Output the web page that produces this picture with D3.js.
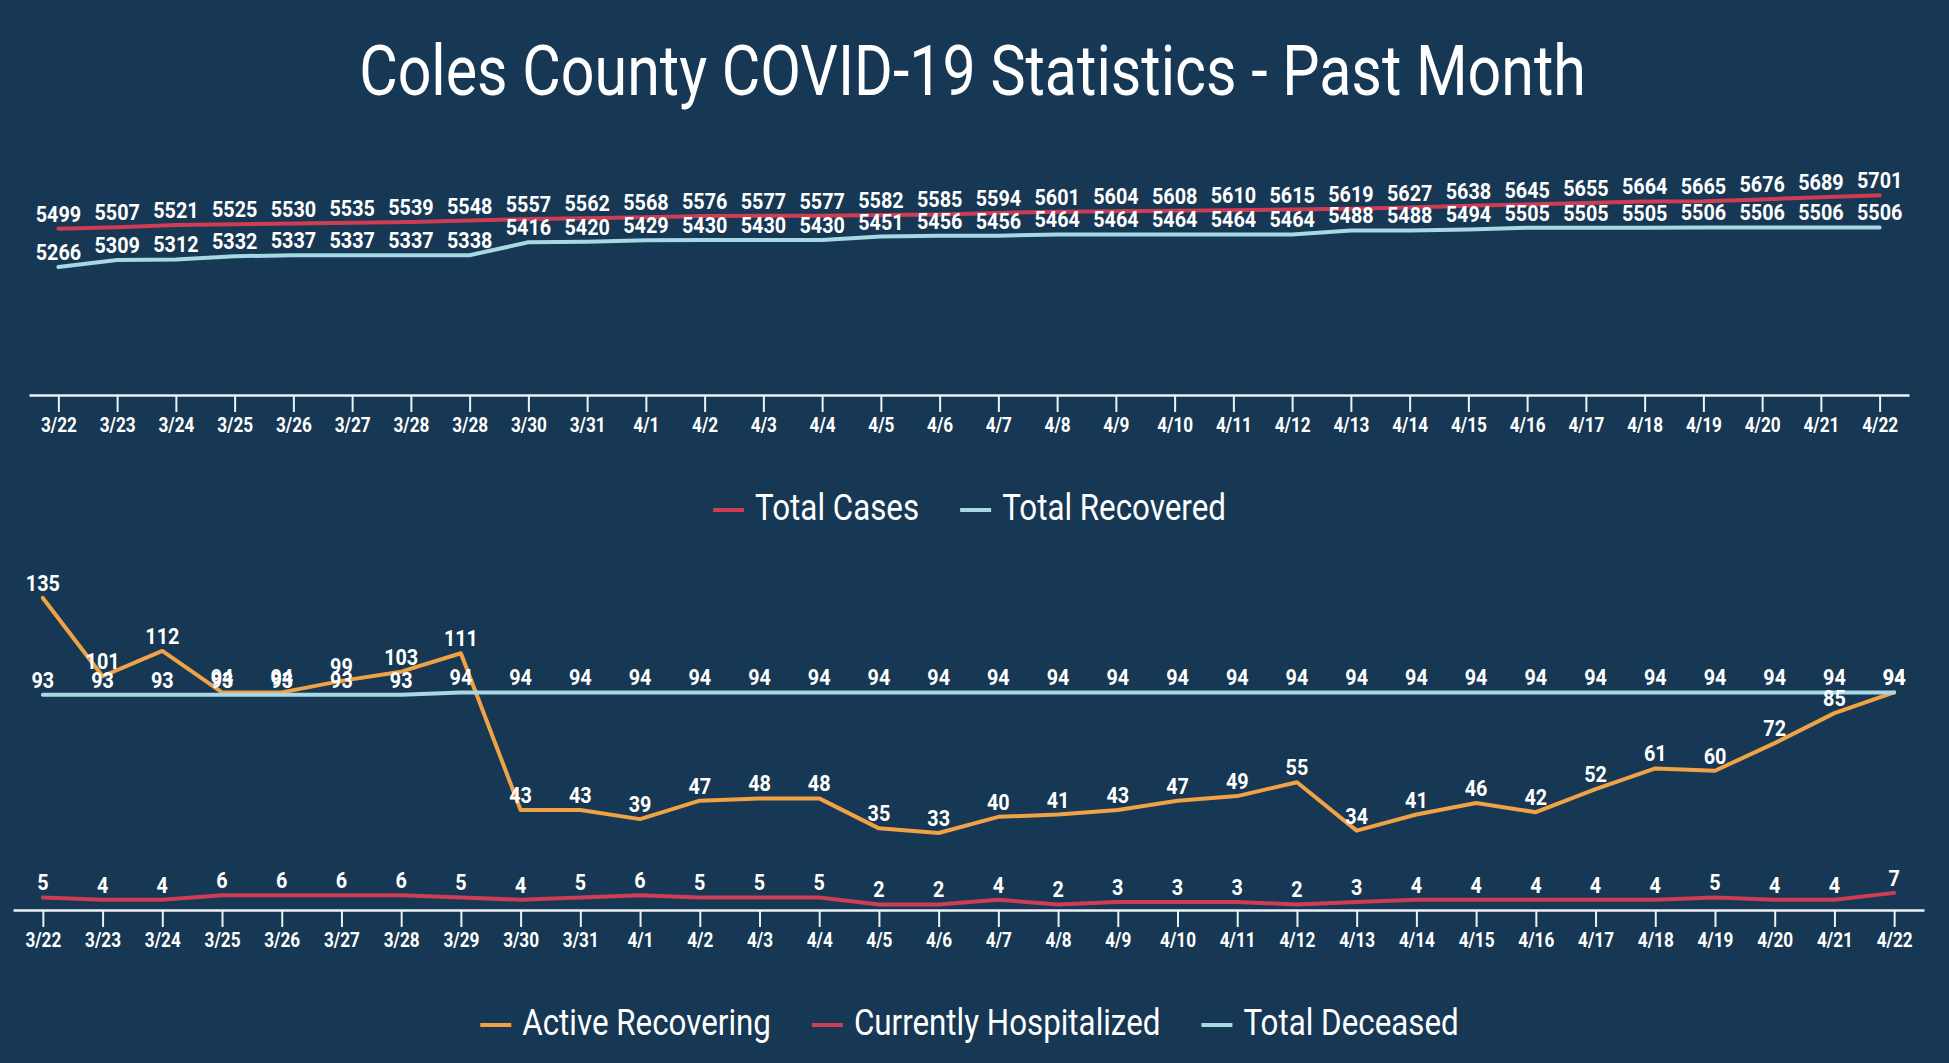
<!DOCTYPE html>
<html>
<head>
<meta charset="utf-8">
<script src="https://cdn.jsdelivr.net/npm/d3@7"></script>
<style>
  html, body { margin: 0; padding: 0; background: #163854; }
  svg { display: block; }
  text { font-family: Roboto, "Open Sans", sans-serif; fill: #fff; }
</style>
</head>
<body>
<div id="chart"></div>
<script>
// data
var topDates = ['3/22', '3/23', '3/24', '3/25', '3/26', '3/27', '3/28', '3/28', '3/30', '3/31',
    '4/1', '4/2', '4/3', '4/4', '4/5', '4/6', '4/7', '4/8', '4/9', '4/10', '4/11', '4/12',
    '4/13', '4/14', '4/15', '4/16', '4/17', '4/18', '4/19', '4/20', '4/21', '4/22'];
var bottomDates = ['3/22', '3/23', '3/24', '3/25', '3/26', '3/27', '3/28', '3/29', '3/30', '3/31',
    '4/1', '4/2', '4/3', '4/4', '4/5', '4/6', '4/7', '4/8', '4/9', '4/10', '4/11', '4/12',
    '4/13', '4/14', '4/15', '4/16', '4/17', '4/18', '4/19', '4/20', '4/21', '4/22'];

var totalCases = [5499, 5507, 5521, 5525, 5530, 5535, 5539, 5548, 5557, 5562, 5568, 5576, 5577, 5577,
    5582, 5585, 5594, 5601, 5604, 5608, 5610, 5615, 5619, 5627, 5638, 5645, 5655, 5664, 5665, 5676, 5689, 5701];
var totalRecovered = [5266, 5309, 5312, 5332, 5337, 5337, 5337, 5338, 5416, 5420, 5429, 5430, 5430, 5430,
    5451, 5456, 5456, 5464, 5464, 5464, 5464, 5464, 5488, 5488, 5494, 5505, 5505, 5505, 5506, 5506, 5506, 5506];

var activeRecovering = [135, 101, 112, 94, 94, 99, 103, 111, 43, 43, 39, 47, 48, 48, 35, 33, 40, 41, 43,
    47, 49, 55, 34, 41, 46, 42, 52, 61, 60, 72, 85, 94];
var hospitalized = [5, 4, 4, 6, 6, 6, 6, 5, 4, 5, 6, 5, 5, 5, 2, 2, 4, 2, 3, 3, 3, 2, 3, 4, 4, 4, 4, 4, 5, 4, 4, 7];
var totalDeceased = [93, 93, 93, 93, 93, 93, 93, 94, 94, 94, 94, 94, 94, 94, 94, 94, 94, 94, 94, 94, 94, 94,
    94, 94, 94, 94, 94, 94, 94, 94, 94, 94];

var titleText = 'Coles County COVID-19 Statistics - Past Month';

var RED = '#cf3d55',
    CYAN = '#a6d9e3',
    ORANGE = '#f0a244';

var width = 1949,
    height = 1063;

var svg = d3.select('#chart')
    .append('svg')
    .attr('width', width)
    .attr('height', height);

// no condensed font installed, so narrow Roboto around each text's anchor
function squeeze(sx) {
    return function (sel) {
        sel.each(function () {
            var t = d3.select(this);
            var x = +t.attr('x') || 0;
            var y = +t.attr('y') || 0;
            t.attr('x', 0).attr('y', 0)
                .attr('transform', 'translate(' + x + ',' + y + ') scale(' + sx + ',1)');
        });
    };
}

svg.append('text')
    .attr('x', width / 2 - 2)
    .attr('y', 95)
    .attr('text-anchor', 'middle')
    .style('font-size', '70px')
    .text(titleText)
    .call(squeeze(0.845));

function drawPanel(opts) {
    var idx = d3.range(opts.labels.length);

    var x = d3.scalePoint()
        .domain(idx)
        .range(opts.xRange)
        .padding(0.5);

    var y = d3.scaleLinear()
        .domain(opts.yDomain)
        .range(opts.yRange);

    var g = svg.append('g');

    var axis = d3.axisBottom(x)
        .tickSize(17)
        .tickSizeOuter(0)
        .tickPadding(6)
        .tickFormat(function (i) {
            return opts.labels[i];
        });

    var ax = g.append('g')
        .attr('transform', 'translate(0,' + opts.axisY + ')')
        .call(axis);

    ax.select('.domain').attr('stroke', '#eef2f5').attr('stroke-width', 2.5);
    ax.selectAll('.tick line').attr('stroke', '#eef2f5').attr('stroke-width', 2);
    ax.selectAll('.tick text')
        .attr('fill', '#fff')
        .style('font-family', 'Roboto, sans-serif')
        .style('font-size', '20px')
        .style('font-weight', 700)
        .call(squeeze(0.86));

    var line = d3.line()
        .x(function (d, i) { return x(i); })
        .y(function (d) { return y(d); });

    opts.series.forEach(function (s) {
        g.append('path')
            .datum(s.values)
            .attr('d', line)
            .attr('fill', 'none')
            .attr('stroke', s.color)
            .attr('stroke-width', 4)
            .attr('stroke-linejoin', 'round')
            .attr('stroke-linecap', 'round');
    });

    opts.series.forEach(function (s) {
        g.append('g')
            .selectAll('text')
            .data(s.values)
            .enter()
            .append('text')
            .attr('x', function (d, i) { return x(i); })
            .attr('y', function (d) { return y(d) - 7; })
            .attr('text-anchor', 'middle')
            .style('font-size', '22px')
            .style('font-weight', 700)
            .text(function (d) { return d; })
            .call(squeeze(0.9));
    });

    // legend
    var sx = 0.87;
    var leg = svg.append('g');
    var cursor = 0;
    opts.series.forEach(function (s) {
        var item = leg.append('g').attr('transform', 'translate(' + cursor + ',0)');
        item.append('rect')
            .attr('x', 0)
            .attr('y', -12)
            .attr('width', 31)
            .attr('height', 4)
            .attr('fill', s.color);
        var t = item.append('text')
            .attr('x', 42)
            .attr('y', 0)
            .style('font-size', '36px')
            .text(s.name)
            .call(squeeze(sx));
        cursor += 42 + t.node().getComputedTextLength() * sx + 41;
    });
    cursor -= 41;
    leg.attr('transform', 'translate(' + (width / 2 - 5 - cursor / 2) + ',' + opts.legendY + ')');
}

drawPanel({
    labels: topDates,
    xRange: [29, 1909],
    yDomain: [4490, 5800],
    yRange: [395, 179],
    axisY: 395,
    legendY: 520,
    series: [
        { name: 'Total Cases', values: totalCases, color: RED },
        { name: 'Total Recovered', values: totalRecovered, color: CYAN }
    ]
});

drawPanel({
    labels: bottomDates,
    xRange: [13, 1924],
    yDomain: [0, 140],
    yRange: [909, 586.4],
    axisY: 910,
    legendY: 1035,
    series: [
        { name: 'Active Recovering', values: activeRecovering, color: ORANGE },
        { name: 'Currently Hospitalized', values: hospitalized, color: RED },
        { name: 'Total Deceased', values: totalDeceased, color: CYAN }
    ]
});
</script>
</body>
</html>
